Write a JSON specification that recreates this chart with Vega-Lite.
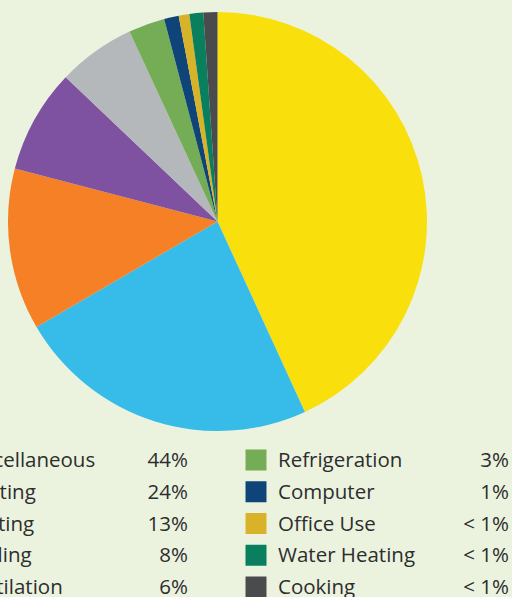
{
  "$schema": "https://vega.github.io/schema/vega-lite/v6.json",
  "width": 512,
  "height": 597,
  "autosize": {"type": "none"},
  "padding": 0,
  "background": "#ebf3df",
  "config": {"view": {"stroke": null}},
  "data": {
    "values": [
      {"category": "Miscellaneous", "value": 43.15, "pct": "44%", "order": 1, "col": "L", "row": 1},
      {"category": "Lighting", "value": 23.45, "pct": "24%", "order": 2, "col": "L", "row": 2},
      {"category": "Heating", "value": 12.47, "pct": "13%", "order": 3, "col": "L", "row": 3},
      {"category": "Cooling", "value": 8.03, "pct": "8%", "order": 4, "col": "L", "row": 4},
      {"category": "Ventilation", "value": 6.0, "pct": "6%", "order": 5, "col": "L", "row": 5},
      {"category": "Refrigeration", "value": 2.8, "pct": "3%", "order": 6, "col": "R", "row": 1},
      {"category": "Computer", "value": 1.13, "pct": "1%", "order": 7, "col": "R", "row": 2},
      {"category": "Office Use", "value": 0.82, "pct": "< 1%", "order": 8, "col": "R", "row": 3},
      {"category": "Water Heating", "value": 1.07, "pct": "< 1%", "order": 9, "col": "R", "row": 4},
      {"category": "Cooking", "value": 1.08, "pct": "< 1%", "order": 10, "col": "R", "row": 5}
    ]
  },
  "layer": [
    {
      "mark": {"type": "arc", "x": 217.5, "y": 221.5, "radius": 209.5, "strokeWidth": 0},
      "encoding": {
        "theta": {"field": "value", "type": "quantitative", "stack": true},
        "order": {"field": "order", "type": "quantitative"},
        "color": {
          "field": "category", "type": "nominal", "legend": null,
          "scale": {
            "domain": ["Miscellaneous", "Lighting", "Heating", "Cooling", "Ventilation", "Refrigeration", "Computer", "Office Use", "Water Heating", "Cooking"],
            "range": ["#f9df0b", "#37bbe8", "#f58025", "#7f52a1", "#b4b8bb", "#75ad57", "#0e4478", "#d8b32a", "#0a7f5e", "#4a4b4d"]
          }
        }
      }
    },
    {
      "mark": {"type": "square", "size": 441, "filled": true, "opacity": 1},
      "encoding": {
        "x": {"field": "col", "type": "nominal", "axis": null, "scale": {"type": "point", "domain": ["L", "R"], "range": [-80, 256], "padding": 0}},
        "y": {"field": "row", "type": "ordinal", "axis": null, "scale": {"type": "point", "domain": [1, 2, 3, 4, 5], "range": [460, 587], "padding": 0}},
        "color": {"field": "category", "type": "nominal", "legend": null}
      }
    },
    {
      "mark": {"type": "text", "align": "left", "baseline": "alphabetic", "dy": 7, "font": "Open Sans", "fontSize": 20.5, "color": "#2d2d2d"},
      "encoding": {
        "x": {"field": "col", "type": "nominal", "axis": null, "scale": {"type": "point", "domain": ["L", "R"], "range": [-40, 278], "padding": 0}},
        "y": {"field": "row", "type": "ordinal", "axis": null, "scale": {"type": "point", "domain": [1, 2, 3, 4, 5], "range": [460, 587], "padding": 0}},
        "text": {"field": "category"}
      }
    },
    {
      "mark": {"type": "text", "align": "right", "baseline": "alphabetic", "dy": 7, "font": "Open Sans", "fontSize": 20.5, "color": "#2d2d2d"},
      "encoding": {
        "x": {"field": "col", "type": "nominal", "axis": null, "scale": {"type": "point", "domain": ["L", "R"], "range": [188, 509], "padding": 0}},
        "y": {"field": "row", "type": "ordinal", "axis": null, "scale": {"type": "point", "domain": [1, 2, 3, 4, 5], "range": [460, 587], "padding": 0}},
        "text": {"field": "pct"}
      }
    }
  ],
  "resolve": {"scale": {"x": "independent"}}
}
